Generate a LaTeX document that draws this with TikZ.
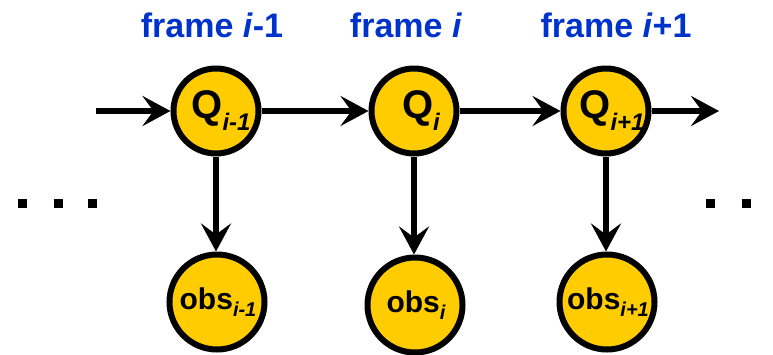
\documentclass[tikz,border=0pt]{standalone}
\usepackage{fontspec}
\setmainfont{Liberation Sans}
\usetikzlibrary{shapes.geometric,arrows.meta}
\definecolor{nodegold}{RGB}{255,204,0}
\definecolor{frameblue}{RGB}{0,51,204}

% lowered italic index after a bold symbol: size, drop, text
\newcommand\idxlow[3]{\raisebox{-#2}{\fontsize{#1}{#1}\selectfont\bfseries\itshape #3}}
% label of zero width, so the ellipse keeps its own size; #1 = shift to the right
\newcommand\flatlbl[2]{\makebox[0pt]{\hspace*{#1}#2}}

\begin{document}
\begin{tikzpicture}[x=1pt,y=-1pt,
  state/.style={ellipse, draw, fill=nodegold, line width=6pt, inner sep=0pt,
    minimum width=85pt, minimum height=85pt,
    font=\fontsize{40}{40}\selectfont\bfseries},
  obsnode/.style={ellipse, draw, fill=nodegold, line width=6pt, inner sep=0pt,
    minimum width=95pt, minimum height=95pt,
    font=\fontsize{30}{30}\selectfont\bfseries},
  link/.style={line width=5.5pt, -{Stealth[length=28pt,width=30pt,inset=11pt]}},
  framelbl/.style={text=frameblue, inner sep=0pt,
    font=\fontsize{34}{34}\selectfont\bfseries},
  dotsq/.style={fill=black, minimum size=9pt, inner sep=0pt}
]
\useasboundingbox (0,0) rectangle (773,354);

% frame headings
\node[framelbl] (f1) at (212,25) {frame \textit{i}-1};
\node[framelbl] (f2) at (406,25) {frame \textit{i}};
\node[framelbl] (f3) at (616,25) {frame \textit{i}+1};

% hidden states
\node[state] (q1) at (216,111) {\flatlbl{10pt}{Q\idxlow{24pt}{12pt}{i-1}}};
\node[state] (q2) at (414,111) {\flatlbl{14pt}{Q\idxlow{24pt}{12pt}{i}}};
\node[state] (q3) at (606,111) {\flatlbl{12pt}{Q\idxlow{24pt}{12pt}{i+1}}};

% observations
\node[obsnode] (o1) at (217,302) {\flatlbl{2pt}{obs\idxlow{20pt}{7pt}{i-1}}};
\node[obsnode] (o2) at (415,305) {\flatlbl{2pt}{obs\idxlow{20pt}{7pt}{i}}};
\node[obsnode] (o3) at (607,302) {\flatlbl{2pt}{obs\idxlow{20pt}{7pt}{i+1}}};

% chain ends
\coordinate (cin) at (96,111);
\coordinate (cout) at (719,111);

\draw[link] (cin) -- (q1);
\draw[link] (q1) -- (q2);
\draw[link] (q2) -- (q3);
\draw[link] (q3) -- (cout);

\draw[link] (q1.south) -- (q1.south |- o1.north);
\draw[link] (q2.south) -- (q2.south |- o2.north);
\draw[link] (q3.south) -- (q3.south |- o3.north);

% continuation dots
\node[dotsq] (dl1) at (22,203.5) {};
\node[dotsq] (dl2) at (58,203.5) {};
\node[dotsq] (dl3) at (92,203.5) {};
\node[dotsq] (dr1) at (710,203.5) {};
\node[dotsq] (dr2) at (746,203.5) {};
\end{tikzpicture}
\end{document}
